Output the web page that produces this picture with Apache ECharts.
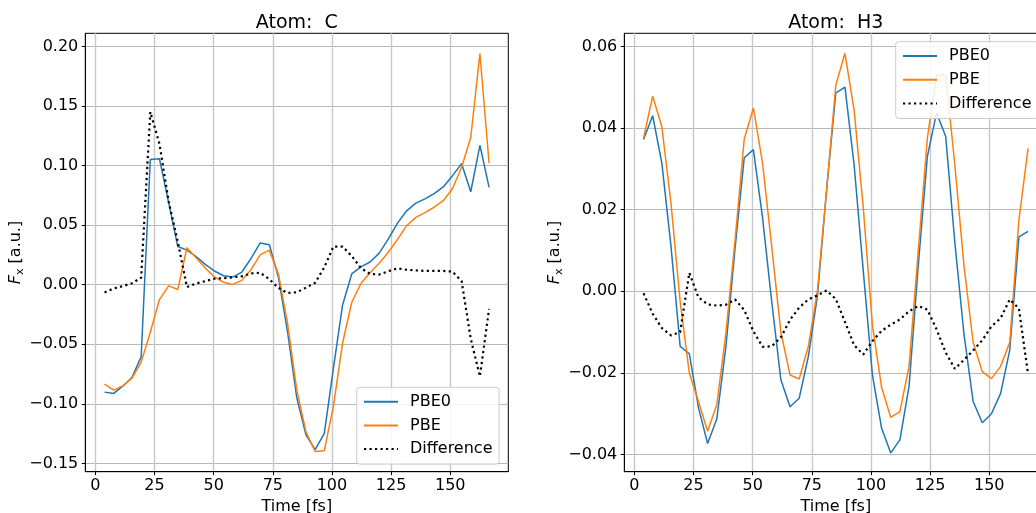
<!DOCTYPE html>
<html>
<head>
<meta charset="utf-8">
<script src="https://cdn.jsdelivr.net/npm/echarts@6/dist/echarts.min.js"></script>
<style>
  html, body { margin: 0; padding: 0; background: #ffffff; }
  #chart { width: 1036px; height: 513px; }
</style>
</head>
<body>
<div id="chart"></div>
<script>
// Simulation time steps (fs)
const time = [3.87, 7.74, 11.61, 15.48, 19.35, 23.22, 27.09, 30.96, 34.83, 38.70,
  42.57, 46.44, 50.31, 54.18, 58.05, 61.92, 65.79, 69.66, 73.53, 77.40,
  81.27, 85.14, 89.01, 92.88, 96.75, 100.62, 104.49, 108.36, 112.23, 116.10,
  119.97, 123.84, 127.71, 131.58, 135.45, 139.32, 143.19, 147.06, 150.93, 154.80,
  158.67, 162.54, 166.41];

// Atom C: x-component of the force (a.u.)
const cPbe0 = [-0.0902, -0.0913, -0.0852, -0.0777, -0.0606, 0.1050, 0.1057, 0.0690, 0.0320, 0.0290,
  0.0235, 0.0170, 0.0115, 0.0075, 0.0064, 0.0106, 0.0220, 0.0350, 0.0335, 0.0060,
  -0.0400, -0.0950, -0.1260, -0.1385, -0.1250, -0.0700, -0.0170, 0.0090, 0.0150, 0.0190,
  0.0265, 0.0385, 0.0517, 0.0620, 0.0685, 0.0720, 0.0765, 0.0820, 0.0915, 0.1015,
  0.0780, 0.1170, 0.0816];
const cPbe = [-0.0835, -0.0885, -0.0850, -0.0785, -0.0650, -0.0400, -0.0125, -0.0010, -0.0040, 0.0310,
  0.0225, 0.0140, 0.0065, 0.0020, 0.0002, 0.0036, 0.0126, 0.0250, 0.0290, 0.0088,
  -0.0330, -0.0886, -0.1235, -0.1400, -0.1395, -0.1020, -0.0490, -0.0150, 0.0010, 0.0100,
  0.0180, 0.0272, 0.0380, 0.0495, 0.0565, 0.0605, 0.0650, 0.0705, 0.0805, 0.0985,
  0.1235, 0.1940, 0.1020];
const cDiff = [-0.0065, -0.0032, -0.0012, 0.0012, 0.0058, 0.1450, 0.1182, 0.0700, 0.0360, -0.0020,
  0.0010, 0.0030, 0.0050, 0.0055, 0.0062, 0.0070, 0.0094, 0.0100, 0.0045, -0.0028,
  -0.0070, -0.0064, -0.0025, 0.0015, 0.0145, 0.0320, 0.0320, 0.0240, 0.0140, 0.0090,
  0.0085, 0.0113, 0.0137, 0.0125, 0.0120, 0.0115, 0.0115, 0.0115, 0.0110, 0.0030,
  -0.0455, -0.0770, -0.0204];

// Atom H3: x-component of the force (a.u.)
const h3Pbe0 = [0.0372, 0.0430, 0.0314, 0.0110, -0.0135, -0.0153, -0.0285, -0.0373, -0.0313, -0.0135,
  0.0106, 0.0327, 0.0347, 0.0180, -0.0025, -0.0217, -0.0283, -0.0262, -0.0160, -0.0010,
  0.0250, 0.0486, 0.0500, 0.0310, 0.0050, -0.0205, -0.0335, -0.0396, -0.0364, -0.0233,
  0.0061, 0.0330, 0.0437, 0.0380, 0.0120, -0.0105, -0.0270, -0.0322, -0.0300, -0.0250,
  -0.0144, 0.0133, 0.0147];
const h3Pbe = [0.0375, 0.0478, 0.0403, 0.0215, -0.0025, -0.0200, -0.0270, -0.0343, -0.0278, -0.0102,
  0.0126, 0.0373, 0.0449, 0.0314, 0.0110, -0.0100, -0.0205, -0.0215, -0.0135, 0.0003,
  0.0248, 0.0505, 0.0583, 0.0444, 0.0205, -0.0083, -0.0235, -0.0309, -0.0295, -0.0184,
  0.0097, 0.0375, 0.0530, 0.0530, 0.0310, 0.0063, -0.0125, -0.0197, -0.0214, -0.0184,
  -0.0125, 0.0175, 0.0350];
const h3Diff = [-0.0005, -0.0055, -0.0090, -0.0108, -0.0100, 0.0045, -0.0015, -0.0032, -0.0035, -0.0033,
  -0.0020, -0.0046, -0.0098, -0.0136, -0.0135, -0.0113, -0.0070, -0.0040, -0.0020, -0.0010,
  0.0002, -0.0019, -0.0075, -0.0132, -0.0155, -0.0122, -0.0097, -0.0082, -0.0069, -0.0049,
  -0.0036, -0.0045, -0.0093, -0.0150, -0.0190, -0.0168, -0.0145, -0.0120, -0.0086, -0.0066,
  -0.0020, -0.0042, -0.0203];

// Tick positions
const timeTicks = [0, 25, 50, 75, 100, 125, 150];
const cTicks = [-0.15, -0.10, -0.05, 0, 0.05, 0.10, 0.15, 0.20];
const h3Ticks = [-0.04, -0.02, 0, 0.02, 0.04, 0.06];

const titles = ['Atom:  C', 'Atom:  H3'];
const names = ['PBE0', 'PBE', 'Difference'];
const colors = ['#1f77b4', '#ff7f0e', '#000000'];

const FONT = 'DejaVu Sans';
const pairs = (ys) => time.map((t, i) => [t, ys[i]]);
const fmtY = (v) => v.toFixed(2).replace('-', '\u2212');

const plotW = 423, plotH = 438.4, plotTop = 33.3;
const plotLefts = [85.3, 624.3];

function xAxisFor(idx) {
  return {
    gridIndex: idx, type: 'value',
    min: -4.257, max: 174.54, minInterval: 25, maxInterval: 25,
    axisLine: { show: true, onZero: false, lineStyle: { color: '#000', width: 1 } },
    axisTick: { show: true, inside: false, length: 3.5, customValues: timeTicks,
      lineStyle: { color: '#000', width: 1 } },
    axisLabel: { customValues: timeTicks, color: '#000', fontSize: 16, fontFamily: FONT, margin: 6,
      formatter: (v) => String(Math.round(v)) },
    splitLine: { show: true, lineStyle: { color: '#c8c8c8', width: 1.4 } },
    name: 'Time [fs]', nameLocation: 'middle', nameGap: 23,
    nameTextStyle: { color: '#000', fontSize: 16, fontFamily: FONT }
  };
}

function yAxisFor(idx, lo, hi, step, ticks) {
  return {
    gridIndex: idx, type: 'value',
    min: lo, max: hi, minInterval: step, maxInterval: step,
    axisLine: { show: true, onZero: false, lineStyle: { color: '#000', width: 1 } },
    axisTick: { show: true, inside: false, length: 3.5, customValues: ticks,
      lineStyle: { color: '#000', width: 1 } },
    axisLabel: { customValues: ticks, color: '#000', fontSize: 16, fontFamily: FONT, margin: 7,
      formatter: fmtY },
    splitLine: { show: true, lineStyle: { color: '#b8b8b8', width: 1 } },
    name: '{it|F}{sub|x} [a.u.]', nameLocation: 'middle', nameGap: 50,
    nameTextStyle: {
      color: '#000', fontSize: 16, fontFamily: FONT, lineHeight: 20,
      rich: {
        it: { fontStyle: 'italic', fontSize: 16, fontFamily: FONT, color: '#000', lineHeight: 20 },
        sub: { fontSize: 11, fontFamily: FONT, color: '#000', lineHeight: 9, verticalAlign: 'bottom' }
      }
    }
  };
}

function seriesFor(idx, blocks) {
  return blocks.map((ys, k) => ({
    name: names[k], type: 'line', xAxisIndex: idx, yAxisIndex: idx,
    data: pairs(ys), symbol: 'none', showSymbol: false, silent: true,
    z: 2 + k,
    lineStyle: k === 2
      ? { color: colors[k], width: 2.2, type: [2.2, 3.3], cap: 'butt' }
      : { color: colors[k], width: 1.5 },
    itemStyle: { color: colors[k] }
  }));
}

function legendAt(left, top) {
  return {
    orient: 'vertical', left: left, top: top,
    data: names,
    padding: [6.4, 6.6, 7, 6.3],
    itemGap: 7.7, itemWidth: 34, itemHeight: 16,
    itemStyle: { opacity: 0, borderWidth: 0 },
    backgroundColor: 'rgba(255,255,255,0.85)',
    borderColor: '#cccccc', borderWidth: 1, borderRadius: 3,
    textStyle: { color: '#000', fontSize: 16, fontFamily: FONT, padding: [0, 0, 0, 7] },
    selectedMode: false
  };
}

const chart = echarts.init(document.getElementById('chart'), null, { renderer: 'canvas' });
chart.setOption({
  animation: false,
  backgroundColor: '#ffffff',
  textStyle: { fontFamily: FONT },
  title: titles.map((t, i) => ({
    text: t, left: plotLefts[i] + plotW / 2, top: 14, textAlign: 'center', padding: 0,
    textStyle: { color: '#000', fontSize: 19, fontWeight: 'normal', fontFamily: FONT }
  })),
  grid: plotLefts.map((l) => ({
    left: l, top: plotTop, width: plotW, height: plotH,
    show: true, borderColor: '#000', borderWidth: 1, backgroundColor: 'transparent',
    containLabel: false, outerBoundsMode: 'none'
  })),
  legend: [legendAt(356.7, 387.3), legendAt(895.7, 41.7)],
  xAxis: [xAxisFor(0), xAxisFor(1)],
  yAxis: [
    yAxisFor(0, -0.157, 0.211, 0.05, cTicks),
    yAxisFor(1, -0.0442, 0.0632, 0.02, h3Ticks)
  ],
  series: [
    ...seriesFor(0, [cPbe0, cPbe, cDiff]),
    ...seriesFor(1, [h3Pbe0, h3Pbe, h3Diff])
  ]
});
</script>
</body>
</html>
